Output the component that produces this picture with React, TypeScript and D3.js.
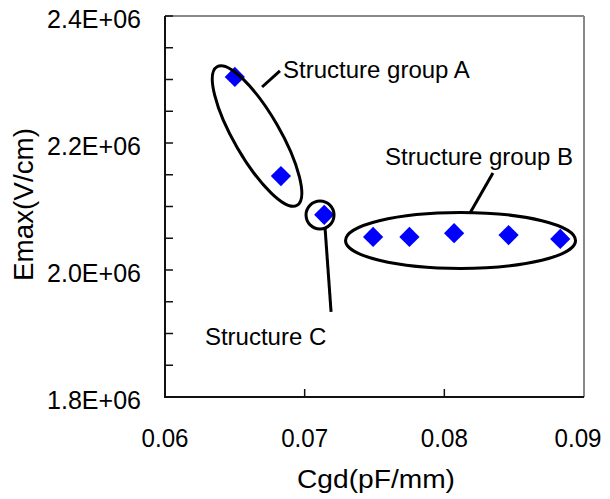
import React from "react";
import * as d3 from "d3";

// measured points
const cgd = [0.065, 0.0683, 0.0714, 0.0749, 0.0775, 0.0807, 0.0846, 0.0883];
const emax = [2.304e6, 2.148e6, 2.087e6, 2.052e6, 2.052e6, 2.058e6, 2.055e6, 2.049e6];

const xTicks = [0.06, 0.07, 0.08, 0.09];
const xTickLabels = ["0.06", "0.07", "0.08", "0.09"];
const yTicks = [1.8e6, 2.0e6, 2.2e6, 2.4e6];
const yTickLabels = ["1.8E+06", "2.0E+06", "2.2E+06", "2.4E+06"];
const yMinor = d3.range(1.8e6, 2.4e6 + 1, 0.05e6);

// annotations (data coords)
const groupNames = ["Structure group A", "Structure group B", "Structure C"];
const labelX = [0.06845, 0.07575, 0.06286];
const labelY = [2.3024e6, 2.1654e6, 1.8819e6];
const leaderFrom = [[0.06695, 2.2882e6], [0.08184, 2.0898e6], [0.07146, 2.0661e6]];
const leaderTo = [[0.06823, 2.3134e6], [0.08348, 2.1528e6], [0.07189, 1.9339e6]];
const ringCx = [0.06659, 0.08116, 0.0711];
const ringCy = [2.211e6, 2.0465e6, 2.0866e6];
const ringRx = [80, 115, 14];
const ringRy = [23, 28, 14];
const ringRot = [60, 0, 0];

const W = 610, H = 499;
const margin = { left: 165, right: 26, top: 16, bottom: 102 };

export default function App() {
  const x = d3.scaleLinear().domain([0.06, 0.09]).range([margin.left, W - margin.right]);
  const y = d3.scaleLinear().domain([1.8e6, 2.4e6]).range([H - margin.bottom, margin.top]);
  const diamond = d3.symbol(d3.symbolSquare, 205)();
  const font = "'Liberation Sans', Arial, sans-serif";
  const x0 = x(0.06), x1 = x(0.09), y0 = y(1.8e6), y1 = y(2.4e6);

  return (
    <svg width={W} height={H} style={{ position: "absolute", left: 0, top: 0, background: "#fff" }}>
      {/* frame */}
      <line x1={x0} x2={x1} y1={y1} y2={y1} stroke="#888" strokeWidth={2} />
      <line x1={x1} x2={x1} y1={y1} y2={y0} stroke="#888" strokeWidth={2} />
      <line x1={x0} x2={x0} y1={y1} y2={y0 + 1} stroke="#111" strokeWidth={2} />
      <line x1={x0 - 1} x2={x1} y1={y0} y2={y0} stroke="#111" strokeWidth={2} />

      {yMinor.map((v, i) => (
        <line key={"ym" + i} x1={x0} x2={x0 + 8} y1={y(v)} y2={y(v)} stroke="#111" strokeWidth={1.5} />
      ))}
      {xTicks.slice(1, 3).map((v, i) => (
        <line key={"xt" + i} x1={x(v)} x2={x(v)} y1={y0} y2={y0 - 8} stroke="#111" strokeWidth={1.5} />
      ))}

      {yTicks.map((v, i) => (
        <text key={"yl" + i} x={141} y={y(v) + 12} textAnchor="end" fontFamily={font} fontSize={26} fill="#000"
          textLength={94} lengthAdjust="spacingAndGlyphs">
          {yTickLabels[i]}
        </text>
      ))}
      {xTicks.map((v, i) => (
        <text key={"xl" + i} x={x(v) - (i === 3 ? 6 : 0)} y={447} textAnchor="middle" fontFamily={font} fontSize={26} fill="#000"
          textLength={47} lengthAdjust="spacingAndGlyphs">
          {xTickLabels[i]}
        </text>
      ))}

      <text x={376} y={488} textAnchor="middle" fontFamily={font} fontSize={26}
        textLength={158} lengthAdjust="spacingAndGlyphs">Cgd(pF/mm)</text>
      <text transform={`translate(33,${204.5}) rotate(-90)`} textAnchor="middle" fontFamily={font} fontSize={27}
        textLength={153} lengthAdjust="spacingAndGlyphs">Emax(V/cm)</text>

      {/* points */}
      {cgd.map((c, i) => (
        <path key={"p" + i} d={diamond!} transform={`translate(${x(c)},${y(emax[i])}) rotate(45)`} fill="#0000ff" />
      ))}

      {/* group rings, leaders, labels */}
      {groupNames.map((name, i) => (
        <g key={"g" + i}>
          <ellipse cx={0} cy={0} rx={ringRx[i]} ry={ringRy[i]} fill="none" stroke="#000" strokeWidth={3}
            transform={`translate(${x(ringCx[i])},${y(ringCy[i])}) rotate(${ringRot[i]})`} />
          <line x1={x(leaderFrom[i][0])} y1={y(leaderFrom[i][1])} x2={x(leaderTo[i][0])} y2={y(leaderTo[i][1])}
            stroke="#000" strokeWidth={3} />
          <text x={x(labelX[i])} y={y(labelY[i])} fontFamily={font} fontSize={24} fill="#000">{name}</text>
        </g>
      ))}
    </svg>
  );
}
